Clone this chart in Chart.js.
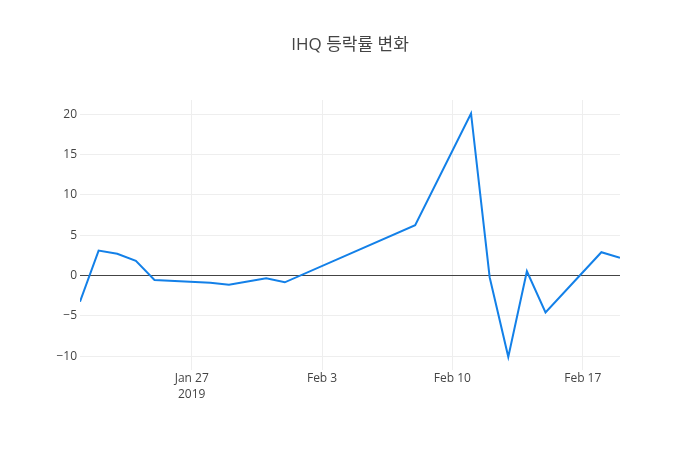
<!DOCTYPE html>
<html>
<head>
<meta charset="utf-8">
<script src="https://cdn.jsdelivr.net/npm/chart.js@4"></script>
<style>
html,body{margin:0;padding:0;background:#fff;}
#wrap{width:700px;height:450px;}
</style>
</head>
<body>
<div id="wrap"><canvas id="c" width="700" height="450"></canvas></div>
<script>
const chartTitle = 'IHQ 등락률 변화';
const dates = ['2019-01-21','2019-01-22','2019-01-23','2019-01-24','2019-01-25',
  '2019-01-28','2019-01-29','2019-01-30','2019-01-31','2019-02-01',
  '2019-02-08','2019-02-11','2019-02-12','2019-02-13','2019-02-14','2019-02-15',
  '2019-02-18','2019-02-19'];
const changes = [-3.23, 3.1, 2.7, 1.83, -0.54,
  -0.87, -1.12, -0.72, -0.33, -0.83,
  6.26, 20.1, -0.2, -10.07, 0.54, -4.56,
  2.9, 2.2];
const xTickDates = ['2019-01-27','2019-02-03','2019-02-10','2019-02-17'];
const xTickLabels = [['Jan 27','2019'], 'Feb 3', 'Feb 10', 'Feb 17'];
const yTickValues = [-10, -5, 0, 5, 10, 15, 20];

const DAY = 86400000;
function dayNum(s){ const p = s.split('-').map(Number); return Date.UTC(p[0], p[1]-1, p[2]) / DAY; }
const points = dates.map((d, i) => ({x: dayNum(d), y: changes[i]}));
const xTicks = xTickDates.map(dayNum);

const FONT = "'Open Sans', 'Noto Sans CJK KR', sans-serif";

new Chart(document.getElementById('c'), {
  type: 'line',
  data: {
    datasets: [{
      data: points,
      borderColor: '#1380e8',
      borderWidth: 2,
      pointRadius: 0,
      pointHoverRadius: 0,
      tension: 0,
      fill: false
    }]
  },
  options: {
    responsive: false,
    animation: false,
    devicePixelRatio: 1,
    layout: { padding: 0 },
    plugins: {
      legend: { display: false },
      tooltip: { enabled: false },
      title: {
        display: true,
        text: chartTitle,
        color: '#444',
        font: { family: FONT, size: 17, weight: 'normal', lineHeight: 1.2 },
        padding: { top: 35, bottom: 44.6 }
      }
    },
    scales: {
      x: {
        type: 'linear',
        min: dayNum(dates[0]),
        max: dayNum(dates[dates.length - 1]),
        afterBuildTicks: (scale) => { scale.ticks = xTicks.map(v => ({value: v})); },
        afterFit: (scale) => { scale.height = 80; },
        border: { display: false },
        grid: { color: '#eeeeee', lineWidth: 1, drawTicks: false },
        ticks: {
          autoSkip: false,
          maxRotation: 0,
          padding: 0,
          color: '#444',
          font: { family: FONT, size: 12, lineHeight: 1.35 },
          callback: (v) => { const i = xTicks.indexOf(v); return i >= 0 ? xTickLabels[i] : ''; }
        }
      },
      y: {
        min: -11.7,
        max: 21.77,
        afterBuildTicks: (scale) => { scale.ticks = yTickValues.map(v => ({value: v})); },
        afterFit: (scale) => { scale.width = 80; },
        border: { display: false },
        grid: {
          drawTicks: false,
          lineWidth: 1,
          color: (ctx) => (ctx.tick && ctx.tick.value === 0) ? '#444444' : '#eeeeee'
        },
        ticks: {
          padding: 3,
          color: '#444',
          font: { family: FONT, size: 12 },
          callback: (v) => (v < 0 ? '\u2212' + Math.abs(v) : String(v))
        }
      },
      yRight: {
        position: 'right',
        display: true,
        min: 0,
        max: 1,
        afterFit: (scale) => { scale.width = 80; },
        border: { display: false },
        grid: { display: false, drawTicks: false },
        ticks: { display: false }
      }
    }
  }
});
</script>
</body>
</html>
